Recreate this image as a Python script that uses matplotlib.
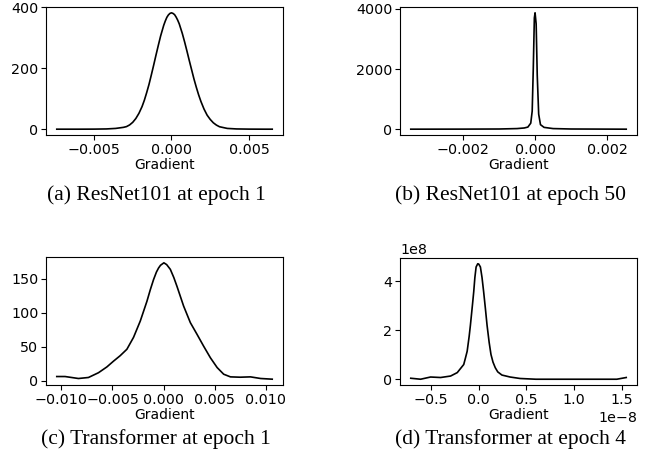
import numpy as np
import matplotlib
matplotlib.use("Agg")
import matplotlib.pyplot as plt

# (a) ResNet101 at epoch 1
a_x = [-0.0074, -0.006, -0.005, -0.0042, -0.0036, -0.0031, -0.0029, -0.0027, -0.0025,
       -0.0023, -0.0021, -0.0019, -0.00175, -0.0016, -0.00145, -0.0013, -0.00115, -0.001,
       -0.00085, -0.0007, -0.0005, -0.0004, -0.0003, -0.0002, -0.0001, 0.0, 0.0001,
       0.0002, 0.0003, 0.0004, 0.0005, 0.0007, 0.00085, 0.001, 0.00115, 0.0013, 0.00145,
       0.0016, 0.00175, 0.0019, 0.0021, 0.0023, 0.0025, 0.0027, 0.0029, 0.0031, 0.0036,
       0.0042, 0.005, 0.006, 0.0065]
a_y = [0, 0, 0.2, 0.8, 2.5, 6, 8.5, 14, 22.5, 35, 52, 74, 95, 120, 147, 178, 210, 243,
       275, 306, 341, 355, 367, 375, 380, 382, 380, 376, 368, 358, 346, 314, 286, 256,
       225, 195, 165, 138, 113, 91, 66, 46, 32, 21, 13.4, 8, 2.5, 0.8, 0.2, 0, 0]

# (b) ResNet101 at epoch 50
b_x = [-0.00345, -0.002, -0.001, -0.0005, -0.0003, -0.0002, -0.00012, -0.00008, -0.00005,
       -0.00002, 0.0, 0.00003, 0.00006, 0.0001, 0.00015, 0.00025, 0.0005, 0.001, 0.002,
       0.00253]
b_y = [0, 2, 6, 20, 40, 70, 200, 600, 2000, 3700, 3870, 3500, 1800, 500, 150, 60, 20,
       6, 2, 0]

# (c) Transformer at epoch 1
c_x = [-0.01045, -0.00964, -0.00833, -0.00735, -0.00637, -0.00555, -0.0049, -0.00425,
       -0.00359, -0.00294, -0.00228, -0.00163, -0.0013, -0.00098, -0.0007, -0.00049,
       -0.0003, 0.00003, 0.0003, 0.00066, 0.001, 0.00131, 0.00196, 0.00262, 0.00327,
       0.00392, 0.00458, 0.00524, 0.00588, 0.00654, 0.0075, 0.0085, 0.0095, 0.01063]
c_y = [6.4, 6.4, 3.5, 5, 12, 20.5, 29, 37, 46.5, 64, 88, 117, 134, 149, 160, 166, 170,
       173.6, 171, 164, 152, 139, 110, 85.6, 68.5, 51, 34, 19.6, 9.8, 5.9, 5.4, 5.9,
       3.5, 2.5]

# (d) Transformer at epoch 4 (x in units of 1e-8, y in units of 1e8)
d_x = [-0.713, -0.61, -0.505, -0.40, -0.295, -0.225, -0.157, -0.14, -0.121, -0.1,
       -0.087, -0.065, -0.052, -0.04, -0.027, -0.01, 0.0, 0.018, 0.035, 0.052, 0.07,
       0.088, 0.11, 0.129, 0.15, 0.174, 0.2, 0.244, 0.33, 0.435, 0.6, 0.9, 1.2, 1.45,
       1.549]
d_y = [0.04, 0.0, 0.09, 0.07, 0.13, 0.27, 0.6, 0.85, 1.14, 1.75, 2.2, 3.05, 3.57, 4.15,
       4.58, 4.71, 4.70, 4.58, 4.15, 3.57, 2.9, 2.2, 1.5, 1.01, 0.7, 0.47, 0.3, 0.17,
       0.09, 0.03, 0.0, 0.0, 0.0, 0.0, 0.07]

captions = ["(a) ResNet101 at epoch 1", "(b) ResNet101 at epoch 50",
            "(c) Transformer at epoch 1", "(d) Transformer at epoch 4"]

a_xticks = [-0.005, 0.0, 0.005]
a_yticks = [0, 200, 400]
b_xticks = [-0.002, 0.0, 0.002]
b_yticks = [0, 2000, 4000]
c_xticks = [-0.010, -0.005, 0.0, 0.005, 0.010]
c_yticks = [0, 50, 100, 150]
d_xticks = [-0.5e-8, 0.0, 0.5e-8, 1.0e-8, 1.5e-8]
d_yticks = [0, 2e8, 4e8]

plt.rcParams['font.size'] = 10.3
W, H = 647, 459
fig = plt.figure(figsize=(W / 100, H / 100), dpi=100)


def box(l, r, t, b):
    return [l / W, 1 - b / H, (r - l) / W, (b - t) / H]


panels = [
    (box(46, 283, 7, 135), a_x, a_y, a_xticks, a_yticks, 1.0, 1.0),
    (box(400, 637, 7, 135), b_x, b_y, b_xticks, b_yticks, 1.0, 1.0),
    (box(46, 283, 257, 385), c_x, c_y, c_xticks, c_yticks, 1.0, 1.0),
    (box(400, 637, 258, 385), d_x, d_y, d_xticks, d_yticks, 1e-8, 1e8),
]

for pos, xs, ys, xt, yt, xscale, yscale in panels:
    ax = fig.add_axes(pos)
    ax.plot(np.array(xs) * xscale, np.array(ys) * yscale, color='black', lw=1.2)
    ax.set_xticks(xt)
    ax.set_yticks(yt)
    ax.set_xlabel('Gradient', labelpad=1, fontsize=10)
    ax.tick_params(length=3.5, width=0.8, pad=2)

cap_pos = [(156, 195), (510, 195), (156, 439), (510, 439)]
for (cx, cy), txt in zip(cap_pos, captions):
    fig.text(cx / W, 1 - cy / H, txt, ha='center', va='center',
             family='Liberation Serif', fontsize=15.5)

fig.savefig('out.png', dpi=100)
